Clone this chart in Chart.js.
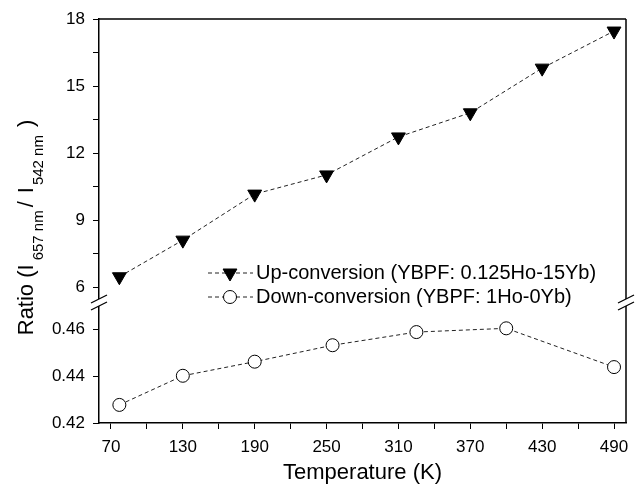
<!DOCTYPE html>
<html><head><meta charset="utf-8">
<script src="https://cdn.jsdelivr.net/npm/chart.js@4/dist/chart.umd.min.js"></script>
<style>html,body{margin:0;padding:0;background:#fff;}#wrap{width:640px;height:486px;position:relative;}</style>
</head><body><div id="wrap"><canvas id="c" width="640" height="486"></canvas></div>
<script>
// ---- data ----
const upTemps = [77, 130, 190, 250, 310, 370, 430, 490];
const upRatio = [6.46, 8.10, 10.16, 11.02, 12.72, 13.80, 15.80, 17.46];
const downTemps = [77, 130, 190, 255, 325, 400, 490];
const downRatio = [0.4277, 0.4401, 0.4461, 0.4531, 0.4587, 0.4603, 0.4438];
const xTickValues = [70, 130, 190, 250, 310, 370, 430, 490];
const upperTickValues = [6, 9, 12, 15, 18];
const lowerTickValues = [0.42, 0.44, 0.46];
const upLabel = 'Up-conversion (YBPF: 0.125Ho-15Yb)';
const downLabel = 'Down-conversion (YBPF: 1Ho-0Yb)';
const xTitle = 'Temperature (K)';
const yTitleParts = [
  {t: 'Ratio (I', sub: false, gap: 4},
  {t: '657 nm', sub: true, gap: 3},
  {t: '/', sub: false, gap: 8},
  {t: 'I', sub: false, gap: 2},
  {t: '542 nm', sub: true, gap: 8},
  {t: ')', sub: false, gap: 0}
];

const FONT = "'Liberation Sans', Arial, sans-serif";
const near = (a, b) => Math.abs(a - b) < 1e-9;

function withMinors(majors) {
  const out = [];
  for (let i = 0; i < majors.length; i++) {
    out.push(majors[i]);
    if (i < majors.length - 1) out.push((majors[i] + majors[i + 1]) / 2);
  }
  return out;
}

const upData = upTemps.map((x, i) => ({x, y: upRatio[i]}));
const downData = downTemps.map((x, i) => ({x, y: downRatio[i]}));

const gridOpts = {drawOnChartArea: false, drawTicks: true, tickLength: 6, color: '#000', lineWidth: 1};
const borderOpts = {display: true, color: '#000', width: 1.5};

const decor = {
  id: 'decor',
  afterDraw(chart) {
    const ctx = chart.ctx, a = chart.chartArea;
    const yB = chart.scales.yTop.bottom;
    ctx.save();
    ctx.strokeStyle = '#000';
    ctx.lineWidth = 1.5;
    ctx.beginPath();
    ctx.moveTo(a.left, a.top); ctx.lineTo(a.right, a.top);
    ctx.moveTo(a.right, a.top); ctx.lineTo(a.right, a.bottom);
    ctx.stroke();
    // axis break
    ctx.fillStyle = '#fff';
    for (const x of [a.left, a.right]) ctx.fillRect(x - 2, yB - 3, 4, 7);
    ctx.lineWidth = 1.3;
    for (const x of [a.left, a.right]) {
      ctx.beginPath();
      ctx.moveTo(x - 8, yB + 1); ctx.lineTo(x + 8, yB - 7);
      ctx.moveTo(x - 8, yB + 8); ctx.lineTo(x + 8, yB);
      ctx.stroke();
    }
    // y title
    const mainF = '22px ' + FONT, subF = '15px ' + FONT;
    let total = 0;
    yTitleParts.forEach(p => { ctx.font = p.sub ? subF : mainF; total += ctx.measureText(p.t).width + p.gap; });
    ctx.translate(33, 227.5);
    ctx.rotate(-Math.PI / 2);
    ctx.fillStyle = '#000';
    ctx.textBaseline = 'alphabetic';
    ctx.textAlign = 'left';
    let pos = -total / 2;
    yTitleParts.forEach(p => {
      ctx.font = p.sub ? subF : mainF;
      ctx.fillText(p.t, pos, p.sub ? 10 : 0);
      pos += ctx.measureText(p.t).width + p.gap;
    });
    ctx.restore();
    // legend
    ctx.save();
    const rows = [chart.data.datasets[0], chart.data.datasets[1]];
    rows.forEach((ds, i) => {
      const y = a.top + 254 + i * 24;
      ctx.strokeStyle = ds.borderColor;
      ctx.lineWidth = ds.borderWidth;
      ctx.setLineDash(ds.borderDash);
      ctx.beginPath(); ctx.moveTo(a.left + 109, y); ctx.lineTo(a.left + 154, y); ctx.stroke();
      ctx.setLineDash([]);
      ctx.fillStyle = ds.pointBackgroundColor;
      ctx.strokeStyle = ds.pointBorderColor;
      ctx.lineWidth = ds.pointBorderWidth;
      Chart.helpers.drawPoint(ctx, {pointStyle: ds.pointStyle, rotation: ds.pointRotation, radius: ds.pointRadius, borderWidth: ds.pointBorderWidth}, a.left + 131, y);
      ctx.fillStyle = '#000';
      ctx.font = '20px ' + FONT;
      ctx.textBaseline = 'middle';
      ctx.fillText(ds.label, a.left + 157, y);
    });
    ctx.restore();
  }
};

new Chart(document.getElementById('c'), {
  type: 'line',
  data: {
    datasets: [
      {label: upLabel, data: upData, yAxisID: 'yTop', borderColor: '#222', borderWidth: 1, borderDash: [4, 3],
       pointStyle: 'triangle', pointRotation: 180, pointRadius: 8, pointBackgroundColor: '#000', pointBorderColor: '#000', pointBorderWidth: 1, fill: false, tension: 0},
      {label: downLabel, data: downData, yAxisID: 'yBot', borderColor: '#222', borderWidth: 1, borderDash: [4, 3],
       pointStyle: 'circle', pointRadius: 6.5, pointBackgroundColor: '#fff', pointBorderColor: '#000', pointBorderWidth: 1, fill: false, tension: 0}
    ]
  },
  options: {
    responsive: false, animation: false, devicePixelRatio: 1,
    layout: {padding: {top: 19, right: 14, left: 0, bottom: 0}},
    plugins: {legend: {display: false}, tooltip: {enabled: false}},
    scales: {
      x: {
        type: 'linear', position: 'bottom', min: 60, max: 500,
        afterBuildTicks: s => { s.ticks = withMinors(xTickValues).map(v => ({value: v})); },
        afterFit: s => { s.height = 63; },
        ticks: {autoSkip: false, maxRotation: 0, color: '#000', font: {family: FONT, size: 17}, padding: 8,
                callback: v => xTickValues.some(t => near(t, v)) ? String(v) : ''},
        grid: gridOpts, border: borderOpts,
        title: {display: true, text: xTitle, color: '#000', font: {family: FONT, size: 22}, padding: {top: 0, bottom: 0}}
      },
      yBot: {
        type: 'linear', position: 'left', stack: 'ratio', stackWeight: 121, min: 0.42, max: 0.4715,
        afterBuildTicks: s => { s.ticks = lowerTickValues.map(v => ({value: v})); },
        afterFit: s => { s.width = 99; },
        ticks: {autoSkip: false, color: '#000', font: {family: FONT, size: 17}, padding: 8,
                callback: v => v.toFixed(2)},
        grid: gridOpts, border: borderOpts
      },
      yTop: {
        type: 'linear', position: 'left', stack: 'ratio', stackWeight: 283, min: 5.33, max: 18,
        afterBuildTicks: s => { s.ticks = withMinors(upperTickValues).map(v => ({value: v})); },
        afterFit: s => { s.width = 99; },
        ticks: {autoSkip: false, color: '#000', font: {family: FONT, size: 17}, padding: 8,
                callback: v => upperTickValues.some(t => near(t, v)) ? String(v) : ''},
        grid: gridOpts, border: borderOpts
      }
    }
  },
  plugins: [decor]
});
</script>
</body></html>
